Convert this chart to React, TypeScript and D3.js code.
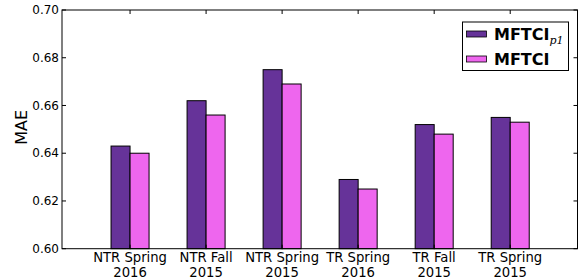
import React from 'react';
import * as d3 from 'd3';

// ─── data ───
const categories = [
  ['NTR Spring', '2016'],
  ['NTR Fall', '2015'],
  ['NTR Spring', '2015'],
  ['TR Spring', '2016'],
  ['TR Fall', '2015'],
  ['TR Spring', '2015'],
];
const maeP1 = [0.643, 0.662, 0.675, 0.629, 0.652, 0.655];
const mae = [0.640, 0.656, 0.669, 0.625, 0.648, 0.653];
const yTicks = [0.6, 0.62, 0.64, 0.66, 0.68, 0.7];

const W = 583;
const H = 279;
const left = 62, right = 577.5, top = 10, bottom = 248.7;
const font = 'DejaVu Sans, sans-serif';
const PURPLE = '#663399';
const PINK = '#ee66ee';

export default function App() {
  const x = d3.scaleLinear().domain([-0.895, 5.885]).range([left, right]);
  const y = d3.scaleLinear().domain([0.6, 0.7]).range([bottom, top]);
  const bw = x(0.25) - x(0);

  return (
    <svg width={W} height={H} style={{ position: 'absolute', left: 0, top: 0, background: '#fff' }}>
      {/* bars */}
      {categories.map((_, i) => (
        <g key={i}>
          <rect x={x(i) - bw} y={y(maeP1[i])} width={bw} height={bottom - y(maeP1[i])}
            fill={PURPLE} stroke="#000" strokeWidth={1} />
          <rect x={x(i)} y={y(mae[i])} width={bw} height={bottom - y(mae[i])}
            fill={PINK} stroke="#000" strokeWidth={1} />
        </g>
      ))}

      {/* frame */}
      <rect x={left} y={top} width={right - left} height={bottom - top} fill="none" stroke="#000" strokeWidth={1} />

      {/* y ticks */}
      {yTicks.map(t => (
        <g key={t}>
          <line x1={left} x2={left + 4} y1={y(t)} y2={y(t)} stroke="#000" />
          <line x1={right - 4} x2={right} y1={y(t)} y2={y(t)} stroke="#000" />
          <text x={left - 3} y={y(t)} dy="0.35em" textAnchor="end" fontFamily={font} fontSize={12}>
            {t.toFixed(2)}
          </text>
        </g>
      ))}

      {/* x ticks + labels */}
      {categories.map((c, i) => (
        <g key={i}>
          <line x1={x(i)} x2={x(i)} y1={top} y2={top + 4} stroke="#000" />
          <line x1={x(i)} x2={x(i)} y1={bottom - 4} y2={bottom} stroke="#000" />
          <text x={x(i)} y={262.3} textAnchor="middle" fontFamily={font} fontSize={13.2}>{c[0]}</text>
          <text x={x(i)} y={276.7} textAnchor="middle" fontFamily={font} fontSize={13.2}>{c[1]}</text>
        </g>
      ))}

      {/* y label */}
      <text transform={`translate(27,${(top + bottom) / 2 - 2}) rotate(-90)`} textAnchor="middle"
        fontFamily={font} fontSize={16}>MAE</text>

      {/* legend */}
      <g>
        <rect x={462.5} y={22} width={106} height={48.5} fill="#fff" stroke="#000" strokeWidth={1} />
        <rect x={466.5} y={31} width={20} height={6} fill={PURPLE} stroke="#000" strokeWidth={0.8} />
        <rect x={466.5} y={56} width={20} height={6} fill={PINK} stroke="#000" strokeWidth={0.8} />
        <text x={494} y={40} fontFamily={font} fontSize={16} fontWeight="bold">
          MFTCI
          <tspan dy={4} fontSize={11} fontWeight="normal" fontStyle="italic" fontFamily="DejaVu Serif, serif">p1</tspan>
        </text>
        <text x={494} y={65} fontFamily={font} fontSize={16} fontWeight="bold">MFTCI</text>
      </g>
    </svg>
  );
}
